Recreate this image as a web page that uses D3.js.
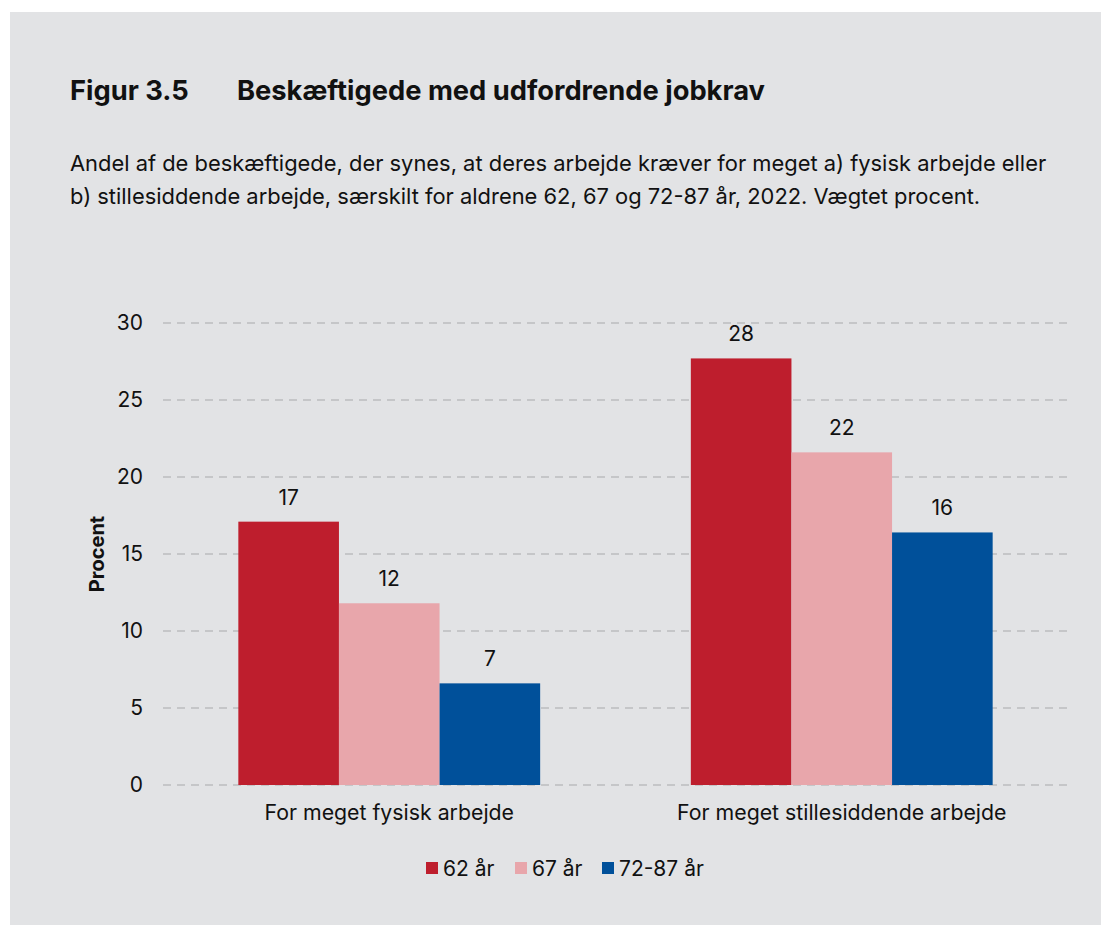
<!DOCTYPE html>
<html lang="da">
  <head>
    <meta charset="utf-8">
    <title>Figur 3.5</title>
    <style>
      body { margin: 0; background: #fff; font-family: Inter, "Noto Sans", sans-serif; }
      svg { display: block; }
    </style>
  </head>
  <body>
    <svg width="1101" height="925"></svg>
    <script src="https://d3js.org/d3.v7.min.js"></script>
    <script>
      const categories = ["For meget fysisk arbejde", "For meget stillesiddende arbejde"];
      const series = ["62 år", "67 år", "72-87 år"];
      const values62 = [17.1, 27.7];
      const values67 = [11.8, 21.6];
      const values72 = [6.6, 16.4];
      const yTicks = [0, 5, 10, 15, 20, 25, 30];
      const colors = ["#be1e2d", "#e8a6ab", "#00509a"];

      const svg = d3.select("svg");

      // grey panel
      svg.append("rect")
          .attr("x", 10).attr("y", 12)
          .attr("width", 1091).attr("height", 913)
          .attr("fill", "#e2e3e5");

      svg.append("text")
          .attr("x", 70).attr("y", 100)
          .attr("font-size", 27.3).attr("font-weight", 700).attr("fill", "#111")
          .text("Figur 3.5");
      svg.append("text")
          .attr("x", 237).attr("y", 100)
          .attr("font-size", 27.3).attr("font-weight", 700).attr("fill", "#111")
          .text("Beskæftigede med udfordrende jobkrav");

      const sub = [
        "Andel af de beskæftigede, der synes, at deres arbejde kræver for meget a) fysisk arbejde eller",
        "b) stillesiddende arbejde, særskilt for aldrene 62, 67 og 72-87 år, 2022. Vægtet procent."
      ];
      svg.append("g").selectAll("text")
        .data(sub)
        .join("text")
          .attr("x", 70)
          .attr("y", (d, i) => 171 + i * 33)
          .attr("font-size", 21.9).attr("fill", "#111")
          .text(d => d);

      const x = d3.scaleBand()
          .domain(categories)
          .range([163, 1068])
          .paddingInner(0.333)
          .paddingOuter(0.1665);

      const xs = d3.scaleBand()
          .domain(series)
          .range([0, x.bandwidth()]);

      const y = d3.scaleLinear()
          .domain([0, 30])
          .range([785, 323]);

      // grid
      svg.append("g").selectAll("line")
        .data(yTicks)
        .join("line")
          .attr("x1", 163).attr("x2", 1068)
          .attr("y1", d => y(d)).attr("y2", d => y(d))
          .attr("stroke", "#c5c6c8")
          .attr("stroke-width", 2)
          .attr("stroke-dasharray", "8,6");

      const yAxis = svg.append("g")
          .attr("transform", "translate(163,0)")
          .call(d3.axisLeft(y).tickValues(yTicks).tickSize(0).tickPadding(20));
      yAxis.select(".domain").remove();
      yAxis.selectAll("text")
          .attr("font-family", "Inter, sans-serif")
          .attr("font-size", 21).attr("fill", "#111");

      svg.append("text")
          .attr("transform", "translate(104," + y(15) + ") rotate(-90)")
          .attr("text-anchor", "middle")
          .attr("font-size", 20).attr("font-weight", 700).attr("fill", "#111")
          .text("Procent");

      const rows = [];
      categories.forEach((c, i) => {
        [values62, values67, values72].forEach((vals, j) => {
          rows.push({ cat: c, s: series[j], v: vals[i], color: colors[j] });
        });
      });

      svg.append("g").selectAll("rect")
        .data(rows)
        .join("rect")
          .attr("x", d => x(d.cat) + xs(d.s))
          .attr("y", d => y(d.v))
          .attr("width", xs.bandwidth())
          .attr("height", d => y(0) - y(d.v))
          .attr("fill", d => d.color);

      svg.append("g").selectAll("text")
        .data(rows)
        .join("text")
          .attr("x", d => x(d.cat) + xs(d.s) + xs.bandwidth() / 2)
          .attr("y", d => y(d.v) - 17)
          .attr("text-anchor", "middle")
          .attr("font-size", 21).attr("fill", "#111")
          .text(d => Math.round(d.v));

      const xAxis = svg.append("g")
          .attr("transform", "translate(0,785)")
          .call(d3.axisBottom(x).tickSize(0).tickPadding(20));
      xAxis.select(".domain").remove();
      xAxis.selectAll("text")
          .attr("font-family", "Inter, sans-serif")
          .attr("font-size", 21.3).attr("fill", "#111");

      // legend
      const legendX = [426, 515, 602];
      const legend = svg.append("g").selectAll("g")
        .data(series)
        .join("g")
          .attr("transform", (d, i) => "translate(" + legendX[i] + ",862)");
      legend.append("rect")
          .attr("width", 12).attr("height", 12)
          .attr("fill", (d, i) => colors[i]);
      legend.append("text")
          .attr("x", 17).attr("y", 14)
          .attr("font-size", 21).attr("fill", "#111")
          .text(d => d);
    </script>
  </body>
</html>
